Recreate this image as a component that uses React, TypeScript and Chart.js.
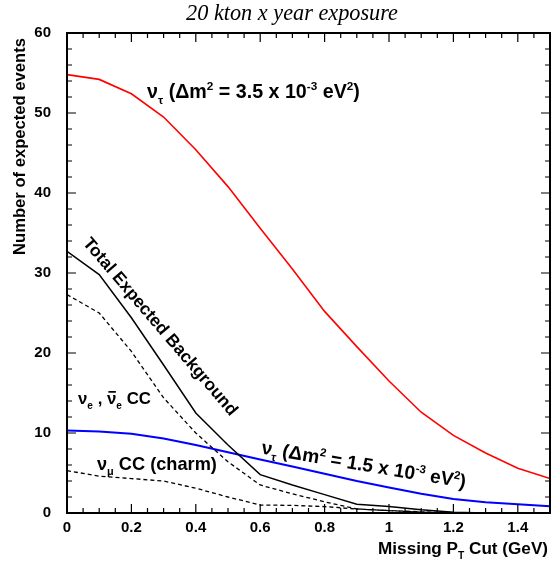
import React, { useEffect, useRef } from 'react';
import { Chart, registerables } from 'chart.js';
Chart.register(...registerables);

const xValues = [0, 0.1, 0.2, 0.3, 0.4, 0.5, 0.6, 0.7, 0.8, 0.9, 1.0, 1.1, 1.2, 1.3, 1.4, 1.5];
const nuTau35 = [54.8, 54.2, 52.4, 49.5, 45.4, 40.8, 35.6, 30.5, 25.2, 20.8, 16.5, 12.6, 9.7, 7.5, 5.6, 4.3];
const nuTau15 = [10.3, 10.2, 9.9, 9.3, 8.5, 7.6, 6.7, 5.8, 4.9, 4.0, 3.2, 2.4, 1.75, 1.35, 1.1, 0.83];
const totalBkg = [32.7, 29.8, 24.4, 18.5, 12.5, 8.5, 4.8, 3.5, 2.3, 1.1, 0.8, 0.4, 0.1, 0, 0, 0];
const nueCC = [27.3, 25.0, 20.2, 14.4, 10.0, 6.4, 3.5, 2.4, 1.4, 0.5, 0.3, 0.1, 0, 0, 0, 0];
const numuCharm = [5.3, 4.6, 4.3, 4.0, 3.1, 2.0, 1.0, 0.95, 0.8, 0.5, 0.3, 0.15, 0.05, 0, 0, 0];
const xTicks = [0, 0.2, 0.4, 0.6, 0.8, 1.0, 1.2, 1.4];
const yTicks = [0, 10, 20, 30, 40, 50, 60];

const titleText = '20 kton x year exposure';
const yTitle = 'Number of expected events';

type Seg = { t: string; m?: 'sub' | 'sup'; bar?: boolean };

const ANN_FONT = '"Liberation Sans"';
const AX_FONT = '"Liberation Sans"';

const labelTau35: Seg[] = [
  { t: 'ν' }, { t: 'τ', m: 'sub' }, { t: ' (Δm' }, { t: '2', m: 'sup' },
  { t: ' = 3.5 x 10' }, { t: '-3', m: 'sup' }, { t: ' eV' }, { t: '2', m: 'sup' }, { t: ')' },
];
const labelTau15: Seg[] = [
  { t: 'ν' }, { t: 'τ', m: 'sub' }, { t: ' (Δm' }, { t: '2', m: 'sup' },
  { t: ' = 1.5 x 10' }, { t: '-3', m: 'sup' }, { t: ' eV' }, { t: '2', m: 'sup' }, { t: ')' },
];
const labelBkg: Seg[] = [{ t: 'Total Expected Background' }];
const labelNue: Seg[] = [
  { t: 'ν' }, { t: 'e', m: 'sub' }, { t: ' , ' }, { t: 'ν', bar: true }, { t: 'e', m: 'sub' }, { t: ' CC' },
];
const labelNumu: Seg[] = [{ t: 'ν' }, { t: 'μ', m: 'sub' }, { t: ' CC (charm)' }];
const labelX: Seg[] = [{ t: 'Missing P' }, { t: 'T', m: 'sub' }, { t: ' Cut (GeV)' }];

function segFont(size: number, fam: string, m?: string) {
  const s = m ? size * 0.6 : size;
  return `bold ${s}px ${fam}`;
}

function richWidth(ctx: CanvasRenderingContext2D, segs: Seg[], size: number, fam: string) {
  let w = 0;
  for (const s of segs) {
    ctx.font = segFont(size, fam, s.m);
    w += ctx.measureText(s.t).width;
  }
  return w;
}

function drawRich(ctx: CanvasRenderingContext2D, segs: Seg[], x: number, y: number, size: number, fam: string) {
  let cx = x;
  ctx.textAlign = 'left';
  ctx.textBaseline = 'alphabetic';
  for (const s of segs) {
    ctx.font = segFont(size, fam, s.m);
    let dy = 0;
    if (s.m === 'sub') dy = size * 0.28;
    if (s.m === 'sup') dy = -size * 0.4;
    ctx.fillText(s.t, cx, y + dy);
    const w = ctx.measureText(s.t).width;
    if (s.bar) {
      ctx.save();
      ctx.lineWidth = size * 0.1;
      ctx.beginPath();
      ctx.moveTo(cx + w * 0.15, y - size * 0.72);
      ctx.lineTo(cx + w * 0.95, y - size * 0.72);
      ctx.stroke();
      ctx.restore();
    }
    cx += w;
  }
}

function fitSize(ctx: CanvasRenderingContext2D, segs: Seg[], fam: string, target: number) {
  const w = richWidth(ctx, segs, 100, fam);
  return (100 * target) / w;
}

const decor = {
  id: 'decor',
  afterDatasetsDraw(chart: any) {
    const { ctx, chartArea, scales } = chart;
    const { left, right, top, bottom } = chartArea;
    const xs = scales.x;
    const ys = scales.y;
    ctx.save();
    ctx.strokeStyle = '#000';
    ctx.lineWidth = 1.2;
    for (let i = 0; i <= 30; i++) {
      const px = xs.getPixelForValue(i * 0.05);
      const len = i % 4 === 0 ? 9 : 5;
      ctx.beginPath();
      ctx.moveTo(px, bottom);
      ctx.lineTo(px, bottom - len);
      ctx.moveTo(px, top);
      ctx.lineTo(px, top + len);
      ctx.stroke();
    }
    for (let i = 0; i <= 30; i++) {
      const py = ys.getPixelForValue(i * 2);
      const len = i % 5 === 0 ? 9 : 5;
      ctx.beginPath();
      ctx.moveTo(left, py);
      ctx.lineTo(left + len, py);
      ctx.moveTo(right, py);
      ctx.lineTo(right - len, py);
      ctx.stroke();
    }
    ctx.lineWidth = 2;
    ctx.strokeRect(left, top, right - left, bottom - top);
    ctx.restore();
  },
  afterDraw(chart: any) {
    const { ctx } = chart;
    ctx.save();
    ctx.fillStyle = '#000';
    ctx.strokeStyle = '#000';

    // title
    {
      const fam = '"Liberation Serif"';
      ctx.font = `italic 100px ${fam}`;
      const size = (100 * 212) / ctx.measureText(titleText).width;
      ctx.font = `italic ${size}px ${fam}`;
      ctx.textAlign = 'center';
      ctx.textBaseline = 'alphabetic';
      ctx.fillText(titleText, 292, 20);
    }
    // y title
    {
      ctx.font = `bold 100px ${AX_FONT}`;
      const size = (100 * 217) / ctx.measureText(yTitle).width;
      ctx.save();
      ctx.translate(25, 146.5);
      ctx.rotate(-Math.PI / 2);
      ctx.font = `bold ${size}px ${AX_FONT}`;
      ctx.textAlign = 'center';
      ctx.textBaseline = 'alphabetic';
      ctx.fillText(yTitle, 0, 0);
      ctx.restore();
    }
    // x title
    {
      const size = fitSize(ctx, labelX, AX_FONT, 170);
      const w = richWidth(ctx, labelX, size, AX_FONT);
      drawRich(ctx, labelX, 548 - w, 554, size, AX_FONT);
    }
    // red label
    {
      const size = fitSize(ctx, labelTau35, ANN_FONT, 213);
      drawRich(ctx, labelTau35, 147, 98, size, ANN_FONT);
    }
    // nue label
    {
      const size = fitSize(ctx, labelNue, ANN_FONT, 73);
      drawRich(ctx, labelNue, 78, 404, size, ANN_FONT);
    }
    // numu label
    {
      const size = fitSize(ctx, labelNumu, ANN_FONT, 120);
      drawRich(ctx, labelNumu, 97, 470, size, ANN_FONT);
    }
    // total background rotated
    {
      const size = fitSize(ctx, labelBkg, ANN_FONT, 228);
      const w = richWidth(ctx, labelBkg, size, ANN_FONT);
      ctx.save();
      ctx.translate(161, 326);
      ctx.rotate((49.5 * Math.PI) / 180);
      drawRich(ctx, labelBkg, -w / 2, size * 0.36, size, ANN_FONT);
      ctx.restore();
    }
    // blue label rotated
    {
      const size = fitSize(ctx, labelTau15, ANN_FONT, 207);
      const w = richWidth(ctx, labelTau15, size, ANN_FONT);
      ctx.save();
      ctx.translate(364, 464);
      ctx.rotate((9.6 * Math.PI) / 180);
      drawRich(ctx, labelTau15, -w / 2, size * 0.36, size, ANN_FONT);
      ctx.restore();
    }
    ctx.restore();
  },
};

function pts(ys: number[]) {
  return xValues.map((x, i) => ({ x, y: ys[i] }));
}

export default function App() {
  const ref = useRef<HTMLCanvasElement>(null);
  useEffect(() => {
    if (!ref.current) return;
    const line = (data: number[], color: string, width: number, dash: number[] = []) => ({
      data: pts(data),
      borderColor: color,
      backgroundColor: color,
      borderWidth: width,
      borderDash: dash,
      pointRadius: 0,
      tension: 0,
      fill: false,
    });
    const chart = new Chart(ref.current, {
      type: 'line',
      data: {
        datasets: [
          line(numuCharm, '#000000', 1.3, [4, 3]),
          line(nueCC, '#000000', 1.3, [4, 3]),
          line(totalBkg, '#000000', 1.5),
          line(nuTau15, '#0000ff', 2),
          line(nuTau35, '#ff0000', 1.6),
        ] as any,
      },
      options: {
        animation: false,
        responsive: false,
        devicePixelRatio: 1,
        layout: { padding: { top: 33, right: 2, left: 0, bottom: 0 } },
        plugins: { legend: { display: false }, tooltip: { enabled: false }, title: { display: false } },
        scales: {
          x: {
            type: 'linear',
            min: 0,
            max: 1.5,
            afterBuildTicks: (s: any) => {
              s.ticks = xTicks.map((v) => ({ value: v }));
            },
            afterFit: (s: any) => {
              s.height = 48;
            },
            grid: { display: false, drawTicks: false },
            border: { display: false },
            ticks: {
              autoSkip: false,
              maxRotation: 0,
              padding: 6,
              color: '#000',
              font: { family: 'Liberation Sans', weight: 'bold', size: 15 },
              callback: (v: any) => (v === 0 ? '0' : Number(v).toFixed(1).replace(/\.0$/, '')),
            },
          },
          y: {
            type: 'linear',
            min: 0,
            max: 60,
            afterBuildTicks: (s: any) => {
              s.ticks = yTicks.map((v) => ({ value: v }));
            },
            afterFit: (s: any) => {
              s.width = 67;
            },
            grid: { display: false, drawTicks: false },
            border: { display: false },
            ticks: {
              padding: 16,
              color: '#000',
              font: { family: 'Liberation Sans', weight: 'bold', size: 15 },
              callback: (v: any) => String(v),
            },
          },
        },
      },
      plugins: [decor],
    });
    return () => chart.destroy();
  }, []);
  return (
    <div style={{ position: 'fixed', left: 0, top: 0, width: 552, height: 561, background: '#fff' }}>
      <canvas ref={ref} width={552} height={561} />
    </div>
  );
}
